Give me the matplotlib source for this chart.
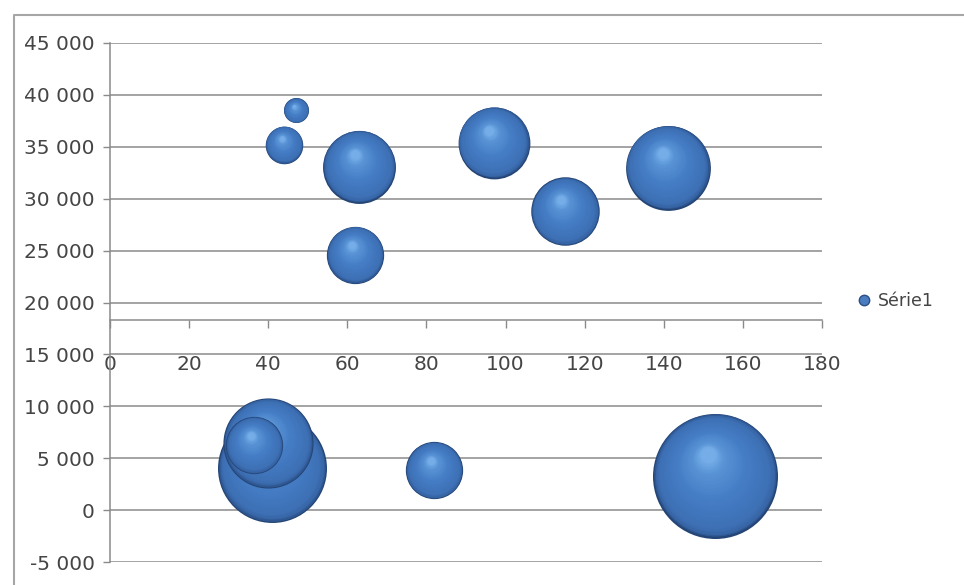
import numpy as np
import matplotlib
matplotlib.use("Agg")
import matplotlib.pyplot as plt
from matplotlib.transforms import offset_copy
from matplotlib.ticker import FuncFormatter
from matplotlib.lines import Line2D

# ---------------- DATA ----------------
x_vals = [47, 44, 63, 62, 97, 115, 141, 82, 153, 41, 40, 36.5]
y_vals = [38500, 35200, 33100, 24600, 35400, 28800, 33000, 3850, 3300, 4050, 6450, 6250]
bubble_sizes = [4, 9, 34, 21, 33, 30, 46, 21, 100, 76, 52, 21]
series_name = "Série1"
x_ticks = list(range(0, 181, 20))
y_ticks = list(range(-5000, 45001, 5000))
x_cross = 18300   # value where the horizontal axis crosses

# ---------------- STYLE ----------------
DPI = 100
W, H = 964, 585
MAX_DIAM_PX = 125
GRID_COLOR = "#8a8a8a"
TEXT_COLOR = "#454545"
N_LAYERS = 40
shade_t = [0.0, 0.04, 0.12, 0.5, 0.85, 1.0]
shade_rgb = [(0.14, 0.27, 0.46), (0.21, 0.39, 0.64), (0.24, 0.44, 0.71),
             (0.27, 0.49, 0.77), (0.35, 0.58, 0.84), (0.46, 0.68, 0.91)]


def shade(t):
    return tuple(float(np.interp(t, shade_t, [c[k] for c in shade_rgb])) for k in range(3))


def fr_thousands(v, pos=None):
    return f"{v:,.0f}".replace(",", " ")


fig = plt.figure(figsize=(W / DPI, H / DPI), dpi=DPI)
ax = fig.add_axes([110 / W, 1 - 562 / H, 712 / W, 519 / H])
ax.set_xlim(0, 180)
ax.set_ylim(-5000, 45000)

# ---------------- Axes ----------------
for side in ["top", "right"]:
    ax.spines[side].set_visible(False)
ax.spines["left"].set_color(GRID_COLOR)
ax.spines["left"].set_linewidth(1.1)
ax.spines["bottom"].set_position(("data", x_cross))
ax.spines["bottom"].set_color(GRID_COLOR)
ax.spines["bottom"].set_linewidth(1.1)

ax.set_xticks(x_ticks)
ax.set_yticks(y_ticks)
ax.yaxis.set_major_formatter(FuncFormatter(fr_thousands))
ax.tick_params(axis="x", direction="out", length=6, width=1, color=GRID_COLOR,
               pad=19, labelsize=14.5, labelcolor=TEXT_COLOR)
ax.tick_params(axis="y", direction="out", length=5, width=1, color=GRID_COLOR,
               pad=6, labelsize=14.5, labelcolor=TEXT_COLOR)
ax.yaxis.grid(True, color=GRID_COLOR, lw=1.1)
ax.set_axisbelow(True)

# ---------------- Bubbles (shaded spheres) ----------------
order = np.argsort(bubble_sizes)[::-1]
smax = max(bubble_sizes)
for z, i in enumerate(order):
    d_pt = MAX_DIAM_PX * np.sqrt(bubble_sizes[i] / smax) * 72 / DPI
    r_pt = d_pt / 2
    for j in range(N_LAYERS):
        t = j / (N_LAYERS - 1)
        f = 1 - 0.88 * t
        tr = offset_copy(ax.transData, fig=fig, x=-(1 - f) * r_pt * 0.14,
                         y=(1 - f) * r_pt * 0.38, units="points")
        ax.scatter([x_vals[i]], [y_vals[i]], s=(d_pt * f) ** 2, color=shade(t),
                   transform=tr, linewidths=0, zorder=3 + z + j / N_LAYERS)

# ---------------- Legend ----------------
handle = Line2D([], [], marker="o", ls="", markersize=7.5,
                markerfacecolor="#4a7cc0", markeredgecolor="#2a4f85")
fig.legend(handles=[handle], labels=[series_name], loc="center left",
           bbox_to_anchor=(857 / W, 1 - 301 / H), frameon=False, fontsize=12.5,
           labelcolor=TEXT_COLOR, handlelength=0.8, handletextpad=0.4,
           borderpad=0, borderaxespad=0)

# ---------------- Chart border ----------------
fig.add_artist(Line2D([14 / W, 14 / W, 1], [0, 1 - 15 / H, 1 - 15 / H],
                      transform=fig.transFigure, color="#a6a6a6", lw=1.5))

fig.savefig("out.png", dpi=DPI)
